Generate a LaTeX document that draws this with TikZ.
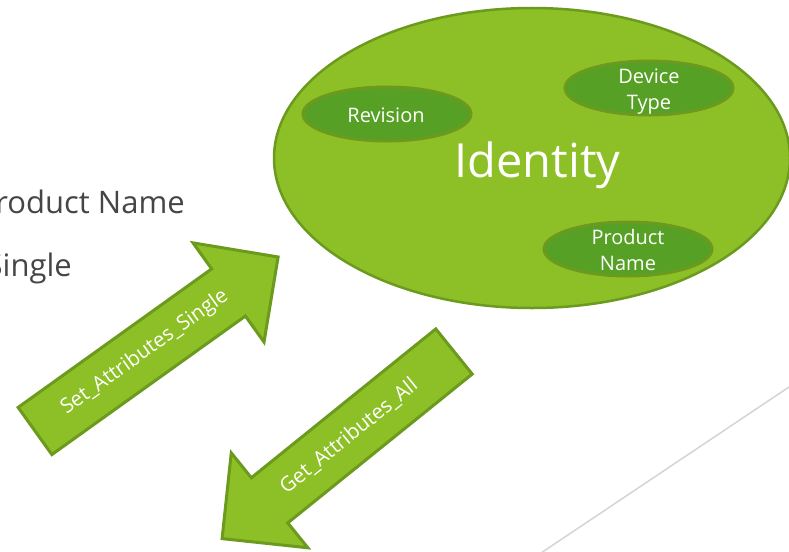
\documentclass[tikz,border=0pt]{standalone}
\usepackage{fontspec}
\setmainfont{Open Sans}
\usetikzlibrary{shapes.geometric}
\definecolor{leaf}{HTML}{8DC026}
\definecolor{leafedge}{HTML}{6B9A1E}
\definecolor{moss}{HTML}{56A025}
\definecolor{slate}{HTML}{454545}
\definecolor{rulegray}{HTML}{D4D4D4}
\begin{document}
\begin{tikzpicture}[x=1pt,y=-1pt,
  blob/.style={ellipse, draw=leafedge, line width=2.5pt, fill=leaf, inner sep=0pt},
  attrbody/.style={ellipse, draw=leafedge, line width=3pt, fill=moss, inner sep=0pt,
    minimum width=168pt, minimum height=54pt},
  attrtext/.style={text=white, font=\fontsize{20}{25.5}\selectfont, align=center,
    inner sep=0pt, anchor=base},
  blockarrow/.style={draw=leafedge, line width=3pt, fill=leaf, line join=miter},
  arrowlabel/.style={text=white, font=\fontsize{20.5}{24}\selectfont, inner sep=0pt},
  sidetext/.style={text=slate, font=\fontsize{31}{37}\selectfont, anchor=base east, inner sep=0pt}]
\useasboundingbox (0,0) rectangle (789,551);

% faint diagonal rule at the lower right
\coordinate (ruleA) at (544,551);
\coordinate (ruleB) at (789,387);
\draw[rulegray, line width=1.5pt, shorten <=-6pt, shorten >=-6pt] (ruleA) -- (ruleB);

% bullet text running in from the left edge
\node[sidetext] (pname) at (185,213) {Product Name};
\node[sidetext] (single) at (72,276) {Single};

% the Identity object and its attributes
\node[blob, minimum width=516pt, minimum height=300pt] (identity) at (532,158) {};
\node[text=white, font=\fontsize{47}{47}\selectfont, inner sep=0pt, anchor=base]
  (idlabel) at (537.5,177) {Identity};

\node[attrbody] (revision) at (387,114) {};
\node[attrtext] (revtext) at (386,122) {Revision};

% two-line labels: the base anchor sits on the last line
\node[attrbody] (devtype) at (649,88) {};
\node[attrtext] (devtext) at (649,109) {Device\\Type};

\node[attrbody] (prodname) at (628,249) {};
\node[attrtext] (prodtext) at (628,270) {Product\\Name};

% Set_Attributes_Single: block arrow pointing into the object
\begin{scope}[shift={(35,431)}, rotate=35.6]
  \draw[blockarrow] (0,29) -- (238,29) -- (238,61) -- (299,0) -- (238,-61)
    -- (238,-29) -- (0,-29) -- cycle;
  \node[arrowlabel, rotate=35.6] (setlabel) at (135,0) {Set\_Attributes\_Single};
\end{scope}

% Get_Attributes_All: block arrow pointing away from the object
\begin{scope}[shift={(454,351.5)}, rotate=218.9]
  \draw[blockarrow] (0,29) -- (237,29) -- (237,61) -- (298,0) -- (237,-61)
    -- (237,-29) -- (0,-29) -- cycle;
  \node[arrowlabel, rotate=38.9] (getlabel) at (135,0) {Get\_Attributes\_All};
\end{scope}
\end{tikzpicture}
\end{document}
